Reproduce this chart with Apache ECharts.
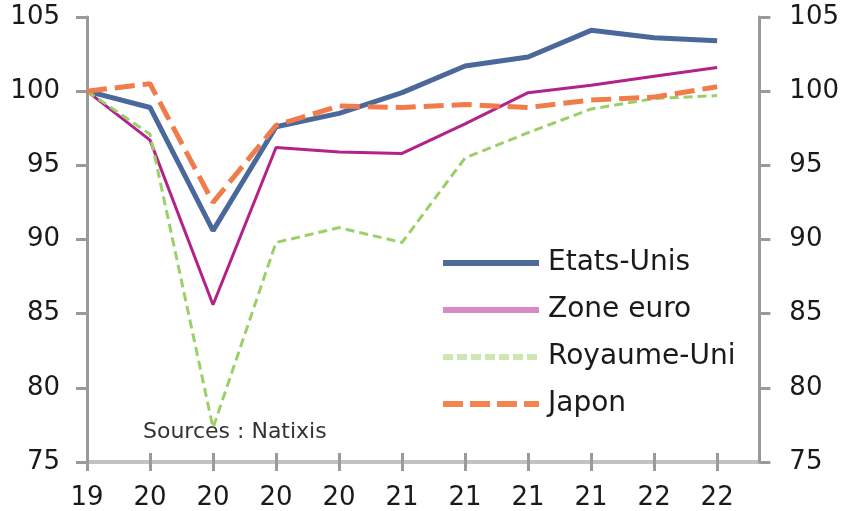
<!DOCTYPE html>
<html>
<head>
<meta charset="utf-8">
<script src="https://cdn.jsdelivr.net/npm/echarts@6/dist/echarts.min.js"></script>
<style>html,body{margin:0;padding:0;background:#fff;}#c{width:842px;height:511px;}</style>
</head>
<body>
<div id="c"></div>
<script>
var xLabels = ['19','20','20','20','20','21','21','21','21','22','22'];
var etatsUnis = [100, 98.9, 90.6, 97.6, 98.5, 99.9, 101.7, 102.3, 104.1, 103.6, 103.4];
var zoneEuro = [100, 96.7, 85.6, 96.2, 95.9, 95.8, 97.8, 99.9, 100.4, 101.0, 101.6];
var royaumeUni = [100, 97.1, 77.3, 89.8, 90.8, 89.8, 95.5, 97.2, 98.8, 99.5, 99.7];
var japon = [100, 100.5, 92.5, 97.7, 99.0, 98.9, 99.1, 98.9, 99.4, 99.6, 100.3];
var yTicks = [75, 80, 85, 90, 95, 100, 105];

function pts(arr){ return arr.map(function(v,i){ return [i, v]; }); }
var idx = xLabels.map(function(_, i){ return i; });
var FONT = 'DejaVu Sans';
var T = 'rgba(0,0,0,0)';

var chart = echarts.init(document.getElementById('c'), null, {renderer:'canvas'});
var yAxisBase = {
  type: 'value', min: 75, max: 105, interval: 5,
  axisLine: {show: true, lineStyle: {color: '#9a9a9a', width: 3}},
  axisTick: {show: true, length: 11, lineStyle: {color: '#9a9a9a', width: 3}},
  splitLine: {show: false},
  axisLabel: {fontFamily: FONT, fontSize: 26, color: '#1a1a1a',
    formatter: function(v){ return yTicks.indexOf(v) >= 0 ? String(v) : ''; }}
};
var option = {
  animation: false,
  backgroundColor: '#fff',
  grid: {left: 87, right: 82, top: 17, bottom: 49, containLabel: false},
  xAxis: [{
    type: 'value', min: 0, max: 10.67, interval: 1, position: 'bottom', offset: -9,
    axisLine: {show: false, onZero: false},
    axisTick: {show: true, inside: false, length: 18, customValues: idx, lineStyle: {color: '#9a9a9a', width: 3}},
    axisLabel: {fontFamily: FONT, fontSize: 26, color: '#1a1a1a', margin: 32, customValues: idx,
      formatter: function(v){ return (Math.abs(v - Math.round(v)) < 1e-6 && xLabels[Math.round(v)] !== undefined) ? xLabels[Math.round(v)] : ''; }},
    splitLine: {show: false}
  }],
  yAxis: [
    Object.assign({}, yAxisBase, {position: 'left', axisLabel: Object.assign({}, yAxisBase.axisLabel, {margin: 27}),
      splitLine: {show: true, lineStyle: {width: 4, color: ['#c2c2c2', T, T, T, T, T, T]}}}),
    Object.assign({}, yAxisBase, {position: 'right', axisLabel: Object.assign({}, yAxisBase.axisLabel, {margin: 30})})
  ],
  legend: {
    orient: 'vertical', left: 435, top: 244, itemWidth: 96, itemHeight: 14, itemGap: 19,
    itemStyle: {opacity: 0},
    textStyle: {fontFamily: FONT, fontSize: 28, color: '#1a1a1a', padding: [0, 0, 0, 4]},
    data: [
      {name: 'Etats-Unis', lineStyle: {color: '#4d6a9a', width: 6}},
      {name: 'Zone euro', lineStyle: {color: '#d88bc3', width: 6}},
      {name: 'Royaume-Uni', lineStyle: {color: '#cde7b0', width: 6, type: [10, 4]}},
      {name: 'Japon', lineStyle: {color: '#f2844f', width: 6, type: [20, 7]}}
    ]
  },
  graphic: [{
    type: 'text', left: 143, top: 421,
    style: {text: 'Sources : Natixis', font: '22px "DejaVu Sans"', fill: '#333'}
  }],
  series: [
    {name: 'Etats-Unis', type: 'line', data: pts(etatsUnis), symbol: 'none', showSymbol: false,
      lineStyle: {color: '#4a6899', width: 5}, itemStyle: {color: '#4a6899'}},
    {name: 'Zone euro', type: 'line', data: pts(zoneEuro), symbol: 'none', showSymbol: false,
      lineStyle: {color: '#b3218a', width: 3}, itemStyle: {color: '#b3218a'}},
    {name: 'Royaume-Uni', type: 'line', data: pts(royaumeUni), symbol: 'none', showSymbol: false,
      lineStyle: {color: '#9bcf68', width: 3, type: [9, 5]}, itemStyle: {color: '#9bcf68'}},
    {name: 'Japon', type: 'line', data: pts(japon), symbol: 'none', showSymbol: false,
      lineStyle: {color: '#f07c4c', width: 5, type: [20, 8]}, itemStyle: {color: '#f07c4c'}}
  ]
};
chart.setOption(option);
</script>
</body>
</html>
